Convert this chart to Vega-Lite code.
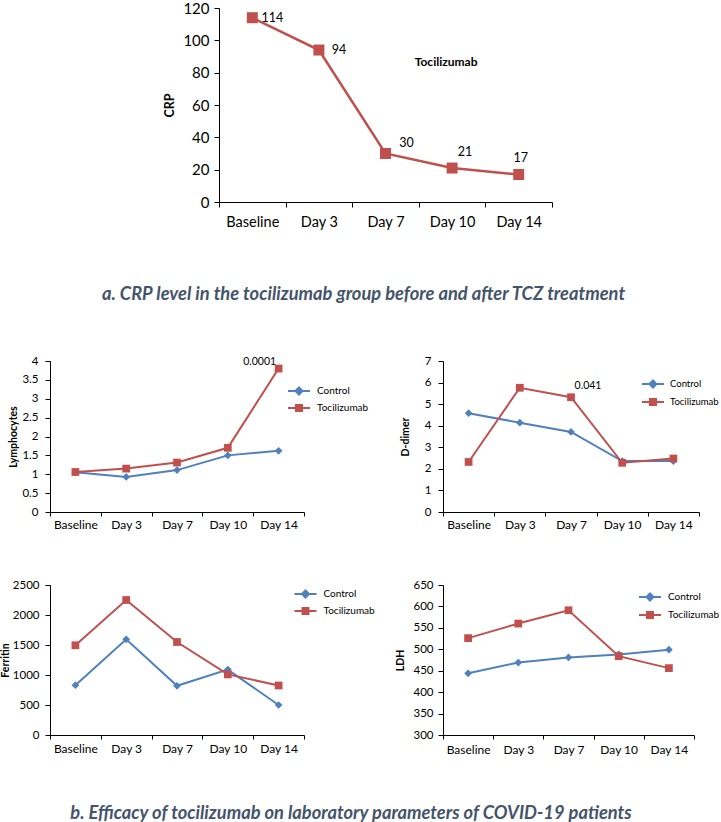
{
  "$schema": "https://vega.github.io/schema/vega-lite/v6.json",
  "autosize": "pad",
  "padding": {"left": 0, "top": 1, "right": 0, "bottom": 0},
  "background": "white",
  "config": {
    "view": {"stroke": null},
    "font": "Lato",
    "axis": {"domainColor": "#000", "tickColor": "#000", "labelColor": "#000", "titleColor": "#000", "grid": false, "labelFont": "Lato", "titleFont": "Lato", "titleFontWeight": "bold", "domainWidth": 1, "tickWidth": 1, "labelOverlap": false},
    "legend": {"labelFont": "Lato", "labelColor": "#000"}
  },
  "datasets": {
    "crp": [
      {"day": "Baseline", "crp": 114},
      {"day": "Day 3", "crp": 94},
      {"day": "Day 7", "crp": 30},
      {"day": "Day 10", "crp": 21},
      {"day": "Day 14", "crp": 17}
    ],
    "labs": [
      {"panel": "Lymphocytes", "group": "Control", "day": "Baseline", "value": 1.05},
      {"panel": "Lymphocytes", "group": "Control", "day": "Day 3", "value": 0.93},
      {"panel": "Lymphocytes", "group": "Control", "day": "Day 7", "value": 1.11},
      {"panel": "Lymphocytes", "group": "Control", "day": "Day 10", "value": 1.5},
      {"panel": "Lymphocytes", "group": "Control", "day": "Day 14", "value": 1.62},
      {"panel": "Lymphocytes", "group": "Tocilizumab", "day": "Baseline", "value": 1.06},
      {"panel": "Lymphocytes", "group": "Tocilizumab", "day": "Day 3", "value": 1.15},
      {"panel": "Lymphocytes", "group": "Tocilizumab", "day": "Day 7", "value": 1.31},
      {"panel": "Lymphocytes", "group": "Tocilizumab", "day": "Day 10", "value": 1.7},
      {"panel": "Lymphocytes", "group": "Tocilizumab", "day": "Day 14", "value": 3.8, "note": "0.0001"},
      {"panel": "D-dimer", "group": "Control", "day": "Baseline", "value": 4.58},
      {"panel": "D-dimer", "group": "Control", "day": "Day 3", "value": 4.14},
      {"panel": "D-dimer", "group": "Control", "day": "Day 7", "value": 3.71},
      {"panel": "D-dimer", "group": "Control", "day": "Day 10", "value": 2.36},
      {"panel": "D-dimer", "group": "Control", "day": "Day 14", "value": 2.36},
      {"panel": "D-dimer", "group": "Tocilizumab", "day": "Baseline", "value": 2.32},
      {"panel": "D-dimer", "group": "Tocilizumab", "day": "Day 3", "value": 5.76},
      {"panel": "D-dimer", "group": "Tocilizumab", "day": "Day 7", "value": 5.32, "note": "0.041"},
      {"panel": "D-dimer", "group": "Tocilizumab", "day": "Day 10", "value": 2.28},
      {"panel": "D-dimer", "group": "Tocilizumab", "day": "Day 14", "value": 2.48},
      {"panel": "Ferritin", "group": "Control", "day": "Baseline", "value": 830},
      {"panel": "Ferritin", "group": "Control", "day": "Day 3", "value": 1595},
      {"panel": "Ferritin", "group": "Control", "day": "Day 7", "value": 820},
      {"panel": "Ferritin", "group": "Control", "day": "Day 10", "value": 1090},
      {"panel": "Ferritin", "group": "Control", "day": "Day 14", "value": 500},
      {"panel": "Ferritin", "group": "Tocilizumab", "day": "Baseline", "value": 1495},
      {"panel": "Ferritin", "group": "Tocilizumab", "day": "Day 3", "value": 2250},
      {"panel": "Ferritin", "group": "Tocilizumab", "day": "Day 7", "value": 1550},
      {"panel": "Ferritin", "group": "Tocilizumab", "day": "Day 10", "value": 1010},
      {"panel": "Ferritin", "group": "Tocilizumab", "day": "Day 14", "value": 825},
      {"panel": "LDH", "group": "Control", "day": "Baseline", "value": 444},
      {"panel": "LDH", "group": "Control", "day": "Day 3", "value": 469},
      {"panel": "LDH", "group": "Control", "day": "Day 7", "value": 481},
      {"panel": "LDH", "group": "Control", "day": "Day 10", "value": 488},
      {"panel": "LDH", "group": "Control", "day": "Day 14", "value": 499},
      {"panel": "LDH", "group": "Tocilizumab", "day": "Baseline", "value": 526},
      {"panel": "LDH", "group": "Tocilizumab", "day": "Day 3", "value": 560},
      {"panel": "LDH", "group": "Tocilizumab", "day": "Day 7", "value": 591},
      {"panel": "LDH", "group": "Tocilizumab", "day": "Day 10", "value": 484},
      {"panel": "LDH", "group": "Tocilizumab", "day": "Day 14", "value": 456}
    ]
  },
  "columns": 2,
  "bounds": "flush",
  "spacing": {"row": 73, "column": 139},
  "resolve": {"scale": {"color": "independent"}, "legend": {"color": "independent"}},
  "concat": [
    {"width": 1, "height": 280, "data": {"values": []}, "mark": "point", "encoding": {}},
    {
      "width": 256,
      "height": 194,
      "data": {"name": "crp"},
      "title": {"text": "a. CRP level in the tocilizumab group before and after TCZ treatment", "orient": "bottom", "anchor": "middle", "frame": "group", "dx": -207.5, "offset": 57, "font": "Lato", "fontSize": 18.3, "fontWeight": "bold", "fontStyle": "italic", "color": "#44546A"},
      "encoding": {
        "x": {"field": "day", "type": "nominal", "sort": ["Baseline", "Day 3", "Day 7", "Day 10", "Day 14"], "scale": {"type": "band", "paddingInner": 0, "paddingOuter": 0, "range": [-224, 109]}, "axis": {"title": null, "labelFontSize": 14.5, "labelAngle": 0, "tickBand": "extent", "tickSize": 5, "labelPadding": 8}},
        "y": {"field": "crp", "type": "quantitative", "scale": {"domain": [0, 120]}, "axis": {"values": [0, 20, 40, 60, 80, 100, 120], "offset": 224, "title": "CRP", "titleFontSize": 12.5, "titleAngle": -90, "titleBaseline": "middle", "titleAlign": "center", "titleX": -50, "titleY": 97, "labelFontSize": 15, "tickSize": 5, "labelPadding": 5}}
      },
      "layer": [
        {"mark": {"type": "line", "color": "#C0504D", "strokeWidth": 2.5}, "encoding": {"order": {"value": null}}},
        {"mark": {"type": "point", "shape": "square", "filled": true, "opacity": 1, "color": "#C0504D", "size": 121}},
        {"transform": [{"filter": "datum.day === 'Baseline' || datum.day === 'Day 3'"}], "mark": {"type": "text", "dx": 20, "dy": 0, "fontSize": 12.5, "align": "center", "baseline": "middle", "color": "#000"}, "encoding": {"text": {"field": "crp", "type": "quantitative"}}},
        {"transform": [{"filter": "datum.day === 'Day 7'"}], "mark": {"type": "text", "dx": 21, "dy": -11, "fontSize": 12.5, "align": "center", "baseline": "middle", "color": "#000"}, "encoding": {"text": {"field": "crp", "type": "quantitative"}}},
        {"transform": [{"filter": "datum.day === 'Day 10'"}], "mark": {"type": "text", "dx": 13, "dy": -16, "fontSize": 12.5, "align": "center", "baseline": "middle", "color": "#000"}, "encoding": {"text": {"field": "crp", "type": "quantitative"}}},
        {"transform": [{"filter": "datum.day === 'Day 14'"}], "mark": {"type": "text", "dx": 2, "dy": -17, "fontSize": 12.5, "align": "center", "baseline": "middle", "color": "#000"}, "encoding": {"text": {"field": "crp", "type": "quantitative"}}},
        {"transform": [{"filter": "datum.day === 'Day 10'"}], "mark": {"type": "text", "fontSize": 12, "fontWeight": "bold", "align": "center", "baseline": "middle", "color": "#000", "dx": -6}, "encoding": {"y": {"datum": 86.6}, "text": {"value": "Tocilizumab"}}}
      ]
    },
    {
      "width": 254, "height": 151,
      "data": {"name": "labs"},
      "transform": [{"filter": "datum.panel === 'Lymphocytes'"}],
      "encoding": {
        "x": {"field": "day", "type": "nominal", "sort": ["Baseline", "Day 3", "Day 7", "Day 10", "Day 14"], "scale": {"type": "band", "paddingInner": 0, "paddingOuter": 0}, "axis": {"title": null, "labelFontSize": 12, "labelAngle": 0, "tickBand": "extent", "tickSize": 4, "labelPadding": 3}},
        "y": {"field": "value", "type": "quantitative", "scale": {"domain": [0, 4]}, "axis": {"values": [0, 0.5, 1, 1.5, 2, 2.5, 3, 3.5, 4], "format": "~g", "title": "Lymphocytes", "titleFontSize": 10.5, "titleAngle": -90, "titleBaseline": "middle", "titleAlign": "center", "titleX": -36.5, "titleY": 75.5, "labelFontSize": 11.5, "tickSize": 5, "labelPadding": 7}}
      },
      "layer": [
        {"mark": {"type": "line", "strokeWidth": 2}, "encoding": {"order": {"value": null}, "color": {"field": "group", "type": "nominal", "scale": {"domain": ["Control", "Tocilizumab"], "range": ["#4F81BD", "#C0504D"]}, "legend": {"orient": "none", "legendX": 243, "legendY": 24, "title": null, "labelFontSize": 10, "symbolSize": 100, "symbolStrokeWidth": 2, "rowPadding": 2, "labelOffset": 12, "padding": 0, "encode": {"symbols": {"update": {"shape": {"signal": "datum.value === 'Control' ? 'M-2.2,0H2.2M0,-0.7L0.7,0L0,0.7L-0.7,0Z' : 'M-2.2,0H2.2M-0.6,-0.6H0.6V0.6H-0.6Z'"}, "fill": {"signal": "datum.value === 'Control' ? '#4F81BD' : '#C0504D'"}, "stroke": {"signal": "datum.value === 'Control' ? '#4F81BD' : '#C0504D'"}, "fillOpacity": {"value": 1}, "strokeWidth": {"value": 2}, "opacity": {"value": 1}}}}}}}},
        {"transform": [{"filter": "datum.group === 'Control'"}], "mark": {"type": "point", "shape": "diamond", "filled": true, "opacity": 1, "color": "#4F81BD", "size": 60}},
        {"transform": [{"filter": "datum.group === 'Tocilizumab'"}], "mark": {"type": "point", "shape": "square", "filled": true, "opacity": 1, "color": "#C0504D", "size": 60}},
        {"transform": [{"filter": "datum.note"}], "mark": {"type": "text", "dx": -19, "dy": -7, "fontSize": 10.5, "align": "center", "baseline": "middle", "color": "#000"}, "encoding": {"text": {"field": "note", "type": "nominal"}}}
      ]
    },
    {
      "width": 256, "height": 151,
      "data": {"name": "labs"},
      "transform": [{"filter": "datum.panel === 'D-dimer'"}],
      "encoding": {
        "x": {"field": "day", "type": "nominal", "sort": ["Baseline", "Day 3", "Day 7", "Day 10", "Day 14"], "scale": {"type": "band", "paddingInner": 0, "paddingOuter": 0}, "axis": {"title": null, "labelFontSize": 12, "labelAngle": 0, "tickBand": "extent", "tickSize": 4, "labelPadding": 3}},
        "y": {"field": "value", "type": "quantitative", "scale": {"domain": [0, 7]}, "axis": {"values": [0, 1, 2, 3, 4, 5, 6, 7], "format": "d", "title": "D-dimer", "titleFontSize": 10.5, "titleAngle": -90, "titleBaseline": "middle", "titleAlign": "center", "titleX": -37.5, "titleY": 75.5, "labelFontSize": 11.5, "tickSize": 5, "labelPadding": 7}}
      },
      "layer": [
        {"mark": {"type": "line", "strokeWidth": 2}, "encoding": {"order": {"value": null}, "color": {"field": "group", "type": "nominal", "scale": {"domain": ["Control", "Tocilizumab"], "range": ["#4F81BD", "#C0504D"]}, "legend": {"orient": "none", "legendX": 204, "legendY": 17, "title": null, "labelFontSize": 9.5, "symbolSize": 100, "symbolStrokeWidth": 2, "rowPadding": 3, "labelOffset": 11, "padding": 0, "encode": {"symbols": {"update": {"shape": {"signal": "datum.value === 'Control' ? 'M-2.2,0H2.2M0,-0.7L0.7,0L0,0.7L-0.7,0Z' : 'M-2.2,0H2.2M-0.6,-0.6H0.6V0.6H-0.6Z'"}, "fill": {"signal": "datum.value === 'Control' ? '#4F81BD' : '#C0504D'"}, "stroke": {"signal": "datum.value === 'Control' ? '#4F81BD' : '#C0504D'"}, "fillOpacity": {"value": 1}, "strokeWidth": {"value": 2}, "opacity": {"value": 1}}}}}}}},
        {"transform": [{"filter": "datum.group === 'Control'"}], "mark": {"type": "point", "shape": "diamond", "filled": true, "opacity": 1, "color": "#4F81BD", "size": 60}},
        {"transform": [{"filter": "datum.group === 'Tocilizumab'"}], "mark": {"type": "point", "shape": "square", "filled": true, "opacity": 1, "color": "#C0504D", "size": 60}},
        {"transform": [{"filter": "datum.note"}], "mark": {"type": "text", "dx": 17, "dy": -11, "fontSize": 10.5, "align": "center", "baseline": "middle", "color": "#000"}, "encoding": {"text": {"field": "note", "type": "nominal"}}}
      ]
    },
    {
      "width": 254, "height": 150,
      "data": {"name": "labs"},
      "transform": [{"filter": "datum.panel === 'Ferritin'"}],
      "title": {"text": "b. Efficacy of tocilizumab on laboratory parameters of COVID-19 patients", "orient": "bottom", "anchor": "middle", "frame": "group", "dx": 174, "offset": 51, "font": "Lato", "fontSize": 18.3, "fontWeight": "bold", "fontStyle": "italic", "color": "#44546A"},
      "encoding": {
        "x": {"field": "day", "type": "nominal", "sort": ["Baseline", "Day 3", "Day 7", "Day 10", "Day 14"], "scale": {"type": "band", "paddingInner": 0, "paddingOuter": 0}, "axis": {"title": null, "labelFontSize": 12, "labelAngle": 0, "tickBand": "extent", "tickSize": 4, "labelPadding": 4}},
        "y": {"field": "value", "type": "quantitative", "scale": {"domain": [0, 2500]}, "axis": {"values": [0, 500, 1000, 1500, 2000, 2500], "format": "d", "title": "Ferritin", "titleFontSize": 10.5, "titleAngle": -90, "titleBaseline": "middle", "titleAlign": "center", "titleX": -44.5, "titleY": 75, "labelFontSize": 11.5, "tickSize": 5, "labelPadding": 6}}
      },
      "layer": [
        {"mark": {"type": "line", "strokeWidth": 2}, "encoding": {"order": {"value": null}, "color": {"field": "group", "type": "nominal", "scale": {"domain": ["Control", "Tocilizumab"], "range": ["#4F81BD", "#C0504D"]}, "legend": {"orient": "none", "legendX": 249.5, "legendY": 3, "title": null, "labelFontSize": 10, "symbolSize": 100, "symbolStrokeWidth": 2, "rowPadding": 2, "labelOffset": 12, "padding": 0, "encode": {"symbols": {"update": {"shape": {"signal": "datum.value === 'Control' ? 'M-2.2,0H2.2M0,-0.7L0.7,0L0,0.7L-0.7,0Z' : 'M-2.2,0H2.2M-0.6,-0.6H0.6V0.6H-0.6Z'"}, "fill": {"signal": "datum.value === 'Control' ? '#4F81BD' : '#C0504D'"}, "stroke": {"signal": "datum.value === 'Control' ? '#4F81BD' : '#C0504D'"}, "fillOpacity": {"value": 1}, "strokeWidth": {"value": 2}, "opacity": {"value": 1}}}}}}}},
        {"transform": [{"filter": "datum.group === 'Control'"}], "mark": {"type": "point", "shape": "diamond", "filled": true, "opacity": 1, "color": "#4F81BD", "size": 60}},
        {"transform": [{"filter": "datum.group === 'Tocilizumab'"}], "mark": {"type": "point", "shape": "square", "filled": true, "opacity": 1, "color": "#C0504D", "size": 60}}
      ]
    },
    {
      "width": 251, "height": 150,
      "data": {"name": "labs"},
      "transform": [{"filter": "datum.panel === 'LDH'"}],
      "encoding": {
        "x": {"field": "day", "type": "nominal", "sort": ["Baseline", "Day 3", "Day 7", "Day 10", "Day 14"], "scale": {"type": "band", "paddingInner": 0, "paddingOuter": 0}, "axis": {"title": null, "labelFontSize": 12, "labelAngle": 0, "tickBand": "extent", "tickSize": 4, "labelPadding": 5}},
        "y": {"field": "value", "type": "quantitative", "scale": {"domain": [300, 650], "zero": false}, "axis": {"values": [300, 350, 400, 450, 500, 550, 600, 650], "format": "d", "title": "LDH", "titleFontSize": 10.5, "titleAngle": -90, "titleBaseline": "middle", "titleAlign": "center", "titleX": -43, "titleY": 75, "labelFontSize": 11.5, "tickSize": 5, "labelPadding": 5}}
      },
      "layer": [
        {"mark": {"type": "line", "strokeWidth": 2}, "encoding": {"order": {"value": null}, "color": {"field": "group", "type": "nominal", "scale": {"domain": ["Control", "Tocilizumab"], "range": ["#4F81BD", "#C0504D"]}, "legend": {"orient": "none", "legendX": 201, "legendY": 6, "title": null, "labelFontSize": 10, "symbolSize": 100, "symbolStrokeWidth": 2, "rowPadding": 3, "labelOffset": 12, "padding": 0, "encode": {"symbols": {"update": {"shape": {"signal": "datum.value === 'Control' ? 'M-2.2,0H2.2M0,-0.7L0.7,0L0,0.7L-0.7,0Z' : 'M-2.2,0H2.2M-0.6,-0.6H0.6V0.6H-0.6Z'"}, "fill": {"signal": "datum.value === 'Control' ? '#4F81BD' : '#C0504D'"}, "stroke": {"signal": "datum.value === 'Control' ? '#4F81BD' : '#C0504D'"}, "fillOpacity": {"value": 1}, "strokeWidth": {"value": 2}, "opacity": {"value": 1}}}}}}}},
        {"transform": [{"filter": "datum.group === 'Control'"}], "mark": {"type": "point", "shape": "diamond", "filled": true, "opacity": 1, "color": "#4F81BD", "size": 60}},
        {"transform": [{"filter": "datum.group === 'Tocilizumab'"}], "mark": {"type": "point", "shape": "square", "filled": true, "opacity": 1, "color": "#C0504D", "size": 60}}
      ]
    }
  ]
}
